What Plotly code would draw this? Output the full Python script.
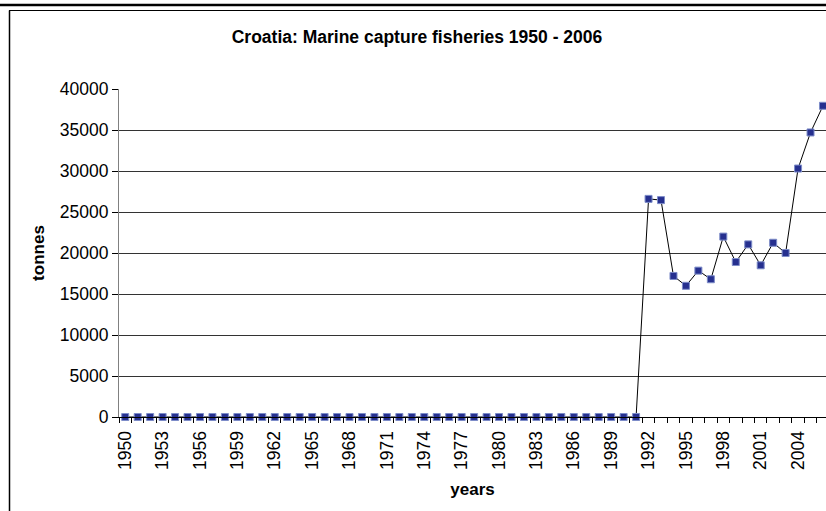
import plotly.graph_objects as go

years = list(range(1950, 2007))
tonnes = [0] * 42 + [26600, 26450, 17200, 16000, 17850, 16800, 22000, 18900,
                     21050, 18500, 21250, 20000, 30300, 34700, 37950]
y_ticks = [0, 5000, 10000, 15000, 20000, 25000, 30000, 35000, 40000]
x_labels = list(range(1950, 2007, 3))

W, H = 826, 511
L, R, T, B = 119, 0, 89, 94
pw = W - L - R
step = 12.46

fig = go.Figure()
fig.add_trace(go.Scatter(
    x=years, y=tonnes, mode="lines+markers",
    line=dict(color="black", width=1),
    marker=dict(symbol="square", size=7, color="#26308f",
                line=dict(color="#7d8cc8", width=1)),
    cliponaxis=False, showlegend=False,
))

fig.update_layout(
    width=W, height=H,
    margin=dict(l=L, r=R, t=T, b=B),
    paper_bgcolor="white", plot_bgcolor="white",
    font=dict(family="Arial, Liberation Sans, sans-serif", color="black"),
    title=dict(text="<b>Croatia: Marine capture fisheries 1950 - 2006</b>",
               x=417 / W, xanchor="center", y=1 - 37 / H, yanchor="middle",
               font=dict(size=17.5)),
    xaxis=dict(
        range=[1949.5, 1949.5 + pw / step],
        tickmode="array", tickvals=x_labels, ticktext=[str(v) for v in x_labels],
        tickangle=-90, tickfont=dict(size=17.5),
        ticks="outside", ticklen=6, tickcolor="rgba(0,0,0,0)",
        showgrid=False, zeroline=False,
        showline=True, linecolor="black", linewidth=1,
        minor=dict(tickmode="linear", tick0=1949.5, dtick=1, ticks="outside",
                   ticklen=5, tickcolor="black", showgrid=False),
        title=dict(text="<b>years</b>", font=dict(size=17), standoff=14),
    ),
    yaxis=dict(
        range=[0, 40000], tickmode="array", tickvals=y_ticks,
        ticktext=[str(v) for v in y_ticks],
        tickfont=dict(size=17.5), ticks="outside", ticklen=6, tickcolor="black",
        showgrid=True, gridcolor="#333333", gridwidth=1,
        zeroline=False, showline=True, linecolor="#808080", linewidth=1,
        title=dict(text="<b>tonnes</b>", font=dict(size=17), standoff=10),
    ),
)

# outer frame decorations (paper coords)
def px(x):
    return (x - L) / pw

def py(y):
    return (H - B - y) / (H - T - B)

fig.add_shape(type="line", xref="paper", yref="paper",
              x0=px(0), x1=px(W), y0=py(5), y1=py(5),
              line=dict(color="black", width=2.5))
fig.add_shape(type="line", xref="paper", yref="paper",
              x0=px(9), x1=px(W), y0=py(10.5), y1=py(10.5),
              line=dict(color="black", width=1))
fig.add_shape(type="line", xref="paper", yref="paper",
              x0=px(9.5), x1=px(9.5), y0=py(10.5), y1=py(H + 2),
              line=dict(color="black", width=1.5))

fig.write_html("out.html", config={"displayModeBar": False},
               post_script="document.body.style.margin='0';document.body.style.overflow='hidden';")
